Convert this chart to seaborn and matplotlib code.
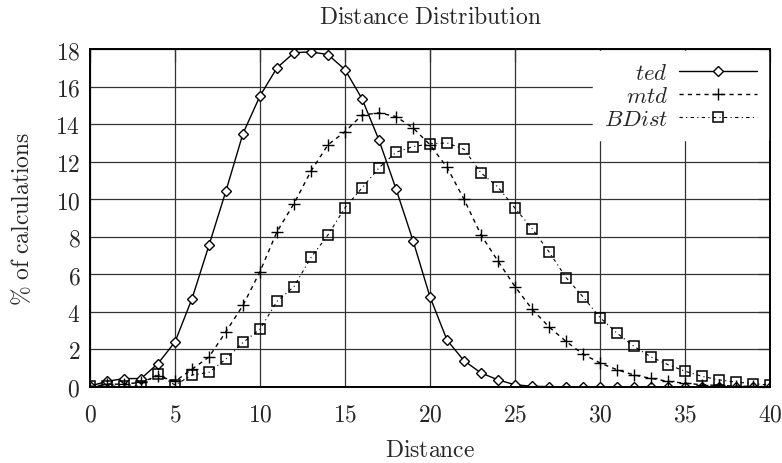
import numpy as np
import seaborn as sns
import matplotlib
matplotlib.use("Agg")
from matplotlib import pyplot as plt
from matplotlib.ticker import FuncFormatter

# distance values 0..40
distance = list(range(0, 41))

ted = [0.05, 0.3, 0.45, 0.45, 1.25, 2.4, 4.7, 7.55, 10.45, 13.5,
       15.5, 17.0, 17.8, 17.85, 17.7, 16.9, 15.35, 13.15, 10.55, 7.8,
       4.8, 2.5, 1.4, 0.75, 0.38, 0.12, 0.04, 0.02, 0.01, 0.01,
       0.01, 0.01, 0.01, 0.01, 0.01, 0.01, 0.01, 0.01, 0.01, 0.01, 0.01]

mtd = [0.0, 0.15, 0.15, 0.25, 0.6, 0.3, 0.95, 1.6, 2.95, 4.35,
       6.15, 8.27, 9.77, 11.5, 12.9, 13.6, 14.48, 14.6, 14.4, 13.8,
       12.9, 11.7, 10.0, 8.1, 6.7, 5.35, 4.15, 3.2, 2.43, 1.75,
       1.28, 0.92, 0.64, 0.46, 0.3, 0.2, 0.12, 0.08, 0.05, 0.03, 0.02]

bdist = [0.05, 0.05, 0.05, 0.05, 0.7, 0.1, 0.64, 0.78, 1.49, 2.37,
         3.08, 4.56, 5.35, 6.9, 8.1, 9.55, 10.6, 11.67, 12.5, 12.8,
         12.95, 13.0, 12.66, 11.4, 10.65, 9.52, 8.44, 7.2, 5.83, 4.8,
         3.7, 2.87, 2.16, 1.6, 1.19, 0.84, 0.57, 0.38, 0.26, 0.18, 0.1]

sns.set_style("white")
plt.rcParams['mathtext.fontset'] = 'cm'
plt.rcParams['font.family'] = ['DejaVu Serif']

fig = plt.figure(figsize=(7.82, 4.64), dpi=100)
ax = fig.add_axes([90 / 782, 1 - 388 / 464, 680 / 782, 338 / 464])

sns.lineplot(x=distance, y=ted, ax=ax, color='black', linewidth=1.0,
             marker='D', markersize=5.5, markerfacecolor='white',
             markeredgecolor='black', markeredgewidth=1.0, label=r'$ted$')
sns.lineplot(x=distance, y=mtd, ax=ax, color='black', linewidth=1.0,
             linestyle=(0, (3, 3)), marker='+', markersize=8,
             markeredgecolor='black', markeredgewidth=1.0, label=r'$mtd$')
sns.lineplot(x=distance, y=bdist, ax=ax, color='black', linewidth=0.8,
             linestyle=(0, (3, 3, 1, 3)), marker='s', markersize=7,
             markerfacecolor='none', markeredgecolor='black',
             markeredgewidth=1.1, label=r'$BDist$')

ax.set_xlim(0, 40)
ax.set_ylim(0, 18)
ax.set_xticks(range(0, 41, 5))
ax.set_yticks(range(0, 19, 2))
ax.xaxis.set_major_formatter(FuncFormatter(lambda v, p: r'$%d$' % v))
ax.yaxis.set_major_formatter(FuncFormatter(lambda v, p: r'$%d$' % v))
ax.grid(True, color='0.2', linewidth=0.9)
ax.set_axisbelow(True)
ax.tick_params(direction='in', length=9, width=0.9, top=True, right=True,
               labelsize=17, pad=7, color='0.2')
ax.tick_params(axis='x', pad=11)
for s in ax.spines.values():
    s.set_linewidth(1.4)
    s.set_color('black')

ax.set_title(r'$\mathrm{Distance\ Distribution}$', fontsize=17, pad=19)
ax.set_xlabel(r'$\mathrm{Distance}$', fontsize=17, labelpad=9)
ax.set_ylabel(r'$\mathrm{\%\ of\ calculations}$', fontsize=17, labelpad=15)

leg = ax.legend(loc='upper right', markerfirst=False, frameon=True,
                fontsize=16.5, handlelength=3.4, labelspacing=0.05,
                borderaxespad=0.1, borderpad=0.45, handletextpad=0.5,
                fancybox=False)
leg.get_frame().set_edgecolor('white')
leg.get_frame().set_facecolor('white')
leg.get_frame().set_alpha(1.0)
for t in leg.get_texts():
    t.set_ha('right')
leg._legend_box.align = 'right'

fig.savefig('out.png', dpi=100)
